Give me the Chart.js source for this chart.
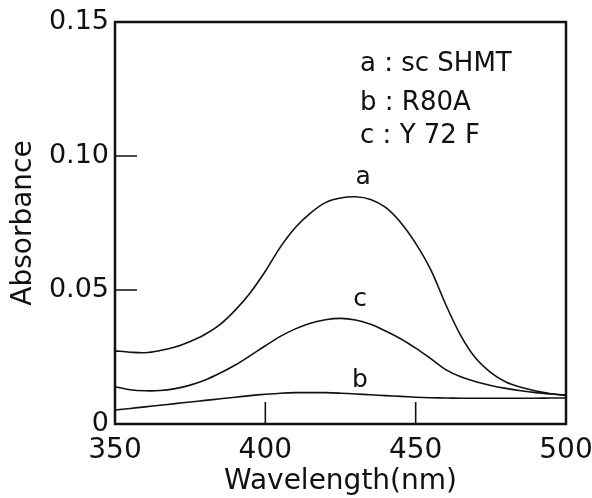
<!DOCTYPE html>
<html>
<head>
<meta charset="utf-8">
<script src="https://cdn.jsdelivr.net/npm/chart.js@4/dist/chart.umd.min.js"></script>
<style>
    html, body { margin: 0; padding: 0; background: #fff; }
</style>
</head>
<body>
<canvas id="myChart" width="592" height="498"></canvas>
<script>
// wavelength grid (nm)
const wavelengths = [350, 355, 360, 365, 370, 375, 380, 385, 390, 395, 400, 405, 410, 415, 420,
    425, 430, 435, 440, 445, 450, 455, 460, 465, 470, 475, 480, 485, 490, 495, 500];

// a : sc SHMT
const absA = [0.0273, 0.0268, 0.0266, 0.0274, 0.0287, 0.0308, 0.0335, 0.0372, 0.0425, 0.0490, 0.0570,
    0.0660, 0.0733, 0.0787, 0.0826, 0.0843, 0.0848, 0.0838, 0.0808, 0.0752, 0.0674, 0.0576, 0.0446,
    0.0330, 0.0245, 0.0192, 0.0157, 0.0137, 0.0123, 0.0113, 0.0106];

// b : R80A
const absB = [0.0052, 0.0058, 0.0064, 0.0070, 0.0076, 0.0082, 0.0088, 0.0094, 0.0100, 0.0106, 0.0111,
    0.0115, 0.0117, 0.0117, 0.0117, 0.0115, 0.0112, 0.0109, 0.0106, 0.0103, 0.0100, 0.0098, 0.0097,
    0.0096, 0.0096, 0.0096, 0.0096, 0.0096, 0.0096, 0.0097, 0.0097];

// c : Y72F
const absC = [0.0139, 0.0128, 0.0124, 0.0125, 0.0132, 0.0145, 0.0164, 0.0190, 0.0220, 0.0255, 0.0292,
    0.0327, 0.0355, 0.0376, 0.0389, 0.0394, 0.0388, 0.0372, 0.0347, 0.0318, 0.0283, 0.0244, 0.0203,
    0.0176, 0.0158, 0.0144, 0.0133, 0.0124, 0.0117, 0.0112, 0.0108];

const xTicks = [350, 400, 450, 500];
const yTicks = [0, 0.05, 0.10, 0.15];

const legendLines = ['a : sc SHMT', 'b : R80A', 'c : Y 72 F'];
const curveNames = ['a', 'b', 'c'];

// where the text goes, in data units
const legendPos = { x: 431.5, y: [0.1343, 0.1197, 0.1074] };
const curveLabelPos = [
    { x: 432.5, y: 0.0918 },
    { x: 431.5, y: 0.0164 },
    { x: 431.5, y: 0.0466 }
];

const FONT = "'DejaVu Sans', sans-serif";
const INK = '#111';

function toPoints(values) {
    return wavelengths.map((w, i) => ({ x: w, y: values[i] }));
}

function lineSet(label, values) {
    return {
        label: label,
        data: toPoints(values),
        borderColor: INK,
        borderWidth: 1.6,
        pointRadius: 0,
        fill: false,
        tension: 0.35
    };
}

const frame = {
    id: 'frame',
    afterDatasetsDraw(chart) {
        const ctx = chart.ctx;
        const a = chart.chartArea;
        const xs = chart.scales.x;
        const ys = chart.scales.y;
        ctx.save();
        ctx.strokeStyle = INK;
        ctx.lineWidth = 2.5;
        ctx.strokeRect(a.left, a.top, a.right - a.left, a.bottom - a.top);

        // inward ticks
        ctx.lineWidth = 1.6;
        ctx.beginPath();
        xTicks.slice(1, -1).forEach(v => {
            const px = xs.getPixelForValue(v);
            ctx.moveTo(px, a.bottom);
            ctx.lineTo(px, a.bottom - 22);
        });
        yTicks.slice(1, -1).forEach(v => {
            const py = ys.getPixelForValue(v);
            ctx.moveTo(a.left, py);
            ctx.lineTo(a.left + 22, py);
        });
        ctx.stroke();

        // legend text
        ctx.fillStyle = INK;
        ctx.font = '26px ' + FONT;
        ctx.textAlign = 'left';
        ctx.textBaseline = 'middle';
        legendLines.forEach((t, i) => {
            ctx.fillText(t, xs.getPixelForValue(legendPos.x), ys.getPixelForValue(legendPos.y[i]));
        });

        // curve letters
        ctx.font = '25px ' + FONT;
        ctx.textAlign = 'center';
        curveNames.forEach((t, i) => {
            const p = curveLabelPos[i];
            ctx.fillText(t, xs.getPixelForValue(p.x), ys.getPixelForValue(p.y));
        });
        ctx.restore();
    }
};

const config = {
    type: 'line',
    data: {
        datasets: [
            lineSet('a', absA),
            lineSet('b', absB),
            lineSet('c', absC)
        ]
    },
    options: {
        responsive: false,
        animation: false,
        devicePixelRatio: 1,
        layout: { padding: { top: 22, right: 26, left: 0, bottom: 0 } },
        plugins: {
            legend: { display: false },
            tooltip: { enabled: false }
        },
        scales: {
            x: {
                type: 'linear',
                min: 350,
                max: 500,
                afterBuildTicks: s => { s.ticks = xTicks.map(v => ({ value: v })); },
                afterFit: s => {
                    s.height = 74;
                    s.paddingLeft = 0;
                    s.paddingRight = 0;
                },
                grid: { display: false, drawTicks: false },
                border: { display: false },
                ticks: {
                    color: INK,
                    padding: 10,
                    maxRotation: 0,
                    autoSkip: false,
                    font: { family: FONT, size: 28 }
                },
                title: {
                    display: true,
                    text: 'Wavelength(nm)',
                    color: INK,
                    padding: { top: 0, bottom: 0 },
                    font: { family: FONT, size: 28, lineHeight: 1.15 }
                }
            },
            y: {
                min: 0,
                max: 0.15,
                afterBuildTicks: s => { s.ticks = yTicks.map(v => ({ value: v })); },
                afterFit: s => {
                    s.width = 115;
                    s.paddingTop = 0;
                    s.paddingBottom = 0;
                },
                grid: { display: false, drawTicks: false },
                border: { display: false },
                ticks: {
                    color: INK,
                    padding: 6,
                    autoSkip: false,
                    font: { family: FONT, size: 27 },
                    callback: v => v === 0 ? '0' : v.toFixed(2)
                },
                title: {
                    display: true,
                    text: 'Absorbance',
                    color: INK,
                    padding: { top: 10, bottom: 0 },
                    font: { family: FONT, size: 28, lineHeight: 1 }
                }
            }
        }
    },
    plugins: [frame]
};

let myChart = new Chart(document.getElementById('myChart'), config);
</script>
</body>
</html>
